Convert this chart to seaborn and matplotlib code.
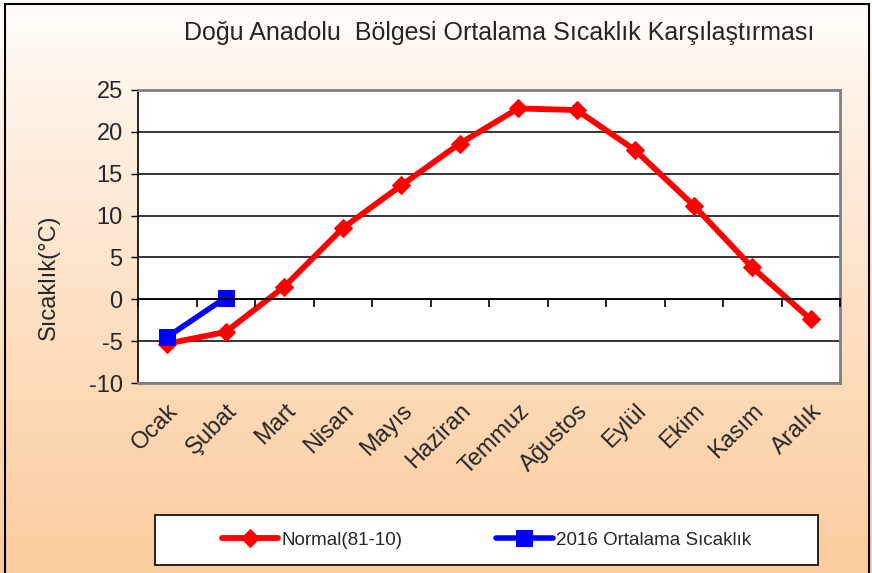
import numpy as np
import pandas as pd
import matplotlib

matplotlib.use('Agg')

import matplotlib.pyplot as plt
from matplotlib.ticker import FixedLocator
from matplotlib.patches import Rectangle
import seaborn as sns

sns.set_style("white")
plt.rcParams['font.family'] = ['Liberation Sans', 'DejaVu Sans']
plt.rcParams['axes.unicode_minus'] = False

months = ["Ocak", "Şubat", "Mart", "Nisan", "Mayıs", "Haziran",
          "Temmuz", "Ağustos", "Eylül", "Ekim", "Kasım", "Aralık"]
normal_8110 = [-5.3, -3.9, 1.5, 8.5, 13.6, 18.6, 22.8, 22.6, 17.8, 11.2, 3.8, -2.4]
avg_2016 = [-4.5, 0.2] + [np.nan] * 10

label_normal = "Normal(81-10)"
label_2016 = "2016 Ortalama Sıcaklık"

df = pd.DataFrame({"Ay": np.arange(len(months)),
                   "normal": normal_8110,
                   "y2016": avg_2016})

fig = plt.figure(figsize=(8.72, 5.73), dpi=100)

# gradient background
bg = fig.add_axes([0, 0, 1, 1], zorder=-10)
grad = np.linspace(0, 1, 256).reshape(-1, 1)
top = np.array([1.0, 0.995, 0.985])
bottom = np.array([0.985, 0.80, 0.62])
img = top + (bottom - top) * grad[..., None] ** 0.85
bg.imshow(img, aspect='auto', extent=[0, 1, 0, 1], origin='upper')
bg.set_axis_off()
fig.patches.append(Rectangle((0.006, -0.01), 0.99, 1.003, transform=fig.transFigure,
                             fill=False, edgecolor='black', linewidth=1.5))

ax = fig.add_axes([138 / 872, 1 - 383 / 573, (840 - 138) / 872, (383 - 90) / 573])
ax.set_facecolor('white')

sns.lineplot(data=df, x="Ay", y="normal", ax=ax, color='#ff0000', linewidth=4.2,
             marker='D', markersize=9, markeredgecolor='#ff0000', label=label_normal,
             legend=False)
sns.lineplot(data=df, x="Ay", y="y2016", ax=ax, color='#0000ff', linewidth=4,
             marker='s', markersize=12, markeredgecolor='#0000ff', label=label_2016,
             legend=False)

ax.set_xlim(-0.5, len(months) - 0.5)
ax.set_ylim(-10, 25)
ax.set_yticks(np.arange(-10, 26, 5))
ax.yaxis.grid(True, color='black', linewidth=1.1)
ax.set_axisbelow(True)
ax.set_xticks(np.arange(len(months)))
ax.set_xticklabels(months, rotation=45, ha='right', rotation_mode='anchor', fontsize=17)
ax.tick_params(axis='x', length=0, pad=12)
ax.tick_params(axis='y', direction='out', length=5, width=1, color='black',
               labelsize=17, pad=6, left=True)
ax.set_xlabel("")
ax.set_ylabel("Sıcaklık(°C)", fontsize=17)
ax.yaxis.set_label_coords(-0.111, 0.36)
for s in ['top', 'right', 'bottom']:
    ax.spines[s].set_color('#808080')
    ax.spines[s].set_linewidth(2)
ax.spines['left'].set_color('black')
ax.spines['left'].set_linewidth(1.2)

# category boundary ticks along the zero line
ax2 = ax.twiny()
ax2.set_xlim(ax.get_xlim())
ax2.xaxis.set_ticks_position('bottom')
ax2.spines['bottom'].set_position(('data', 0))
ax2.xaxis.set_major_locator(FixedLocator(np.arange(-0.5, len(months), 1)))
ax2.tick_params(axis='x', direction='out', length=6, width=1.2, color='black',
                labelbottom=False, labeltop=False)
for s in ['top', 'right', 'left']:
    ax2.spines[s].set_visible(False)
ax2.spines['bottom'].set_color('black')
ax2.spines['bottom'].set_linewidth(1.2)

fig.text(0.572, 0.942, "Doğu Anadolu  Bölgesi Ortalama Sıcaklık Karşılaştırması",
         ha='center', va='center', fontsize=18)

# legend box
fig.patches.append(Rectangle((155 / 872, 1 - 565 / 573), (818 - 155) / 872, 50 / 573,
                             transform=fig.transFigure, facecolor='white',
                             edgecolor='black', linewidth=1.2, zorder=2))
handles, labels = ax.get_legend_handles_labels()
leg = fig.legend(handles, labels, loc='center', ncol=2,
                 bbox_to_anchor=(155 / 872, 1 - 565 / 573, (818 - 155) / 872, 50 / 573),
                 fontsize=13.5, frameon=False, handlelength=3, handletextpad=0.2,
                 columnspacing=5)
leg.set_zorder(3)

fig.savefig("out.png", dpi=100)
